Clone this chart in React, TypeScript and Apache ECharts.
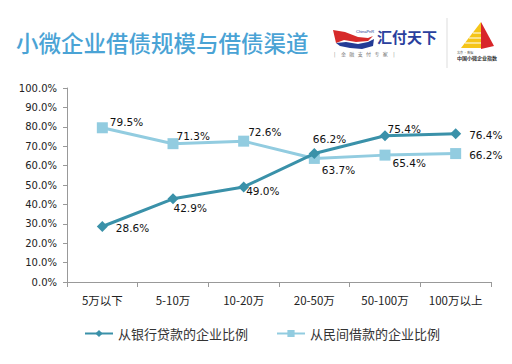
import React, { useEffect, useRef } from "react";
import * as echarts from "echarts";

const categories = ["5万以下", "5-10万", "10-20万", "20-50万", "50-100万", "100万以上"];
const bankValues = [28.6, 42.9, 49.0, 66.2, 75.4, 76.4];
const privateValues = [79.5, 71.3, 72.6, 63.7, 65.4, 66.2];
const bankName = "从银行贷款的企业比例";
const privateName = "从民间借款的企业比例";
const titleText = "小微企业借债规模与借债渠道";

const bankOffsets = [[3, 1], [-10, 9], [-8, 4], [-12, -15], [-8, -7], [3, 1]];
const privateOffsets = [[-3, -6], [-7, -8], [-6, -9], [-3, 12], [-3, 8], [3, 1]];

export default function App() {
  const ref = useRef<HTMLDivElement>(null);
  useEffect(() => {
    const chart = echarts.init(ref.current!, null, { renderer: "svg" });
    const font = "DejaVu Sans";
    const mk = (vals: number[], offs: number[][]) =>
      vals.map((v, i) => ({
        value: v,
        label: { offset: offs[i] },
      }));
    const labelCfg = {
      show: true,
      position: "right",
      distance: 5,
      color: "#111",
      fontSize: 10.5,
      fontFamily: font,
      formatter: (p: any) => p.value.toFixed(1) + "%",
    };
    chart.setOption({
      animation: false,
      backgroundColor: "#ffffff",
      grid: { left: 67, right: 21, top: 88, bottom: 82 },
      legend: {
        left: 79,
        top: 322,
        itemWidth: 28,
        itemHeight: 9,
        itemGap: 28,
        textStyle: { fontSize: 13, color: "#333", fontFamily: "Noto Sans CJK SC" },
        data: [bankName, privateName],
      },
      xAxis: {
        type: "category",
        data: categories,
        boundaryGap: true,
        axisLine: { lineStyle: { color: "#999", width: 1 } },
        axisTick: { show: true, length: 5, lineStyle: { color: "#999" } },
        axisLabel: { interval: 0, color: "#222", fontSize: 11.5, margin: 12, fontFamily: "Noto Sans CJK SC" },
      },
      yAxis: {
        type: "value",
        min: 0,
        max: 100,
        interval: 10,
        splitLine: { show: false },
        axisLine: { show: true, lineStyle: { color: "#999", width: 1 } },
        axisTick: { show: true, length: 4, lineStyle: { color: "#999" } },
        axisLabel: {
          color: "#222",
          fontSize: 10,
          margin: 10,
          fontFamily: font,
          formatter: (v: number) => v.toFixed(1) + "%",
        },
      },
      series: [
        {
          name: bankName,
          type: "line",
          data: mk(bankValues, bankOffsets),
          symbol: "diamond",
          symbolSize: 11,
          color: "#3a91a9",
          lineStyle: { width: 3, color: "#3a91a9" },
          itemStyle: { color: "#3a91a9" },
          label: labelCfg,
          z: 3,
        },
        {
          name: privateName,
          type: "line",
          data: mk(privateValues, privateOffsets),
          symbol: "rect",
          symbolSize: 11,
          color: "#92cce0",
          lineStyle: { width: 3, color: "#92cce0" },
          itemStyle: { color: "#92cce0" },
          label: labelCfg,
          z: 2,
        },
      ],
      graphic: [
        {
          type: "text",
          left: 16,
          top: 31,
          style: {
            text: titleText,
            fill: "#4aa3d5",
            font: "500 22.5px 'Noto Sans CJK SC'",
          },
        },
        // Chinapay swoosh logo
        {
          type: "polygon",
          shape: { points: [[333, 30], [345, 32], [358, 37], [368, 38], [373, 36], [368, 41], [356, 42], [344, 40], [336, 43]] },
          style: { fill: "#d62a2a" },
        },
        {
          type: "polygon",
          shape: { points: [[336, 43], [346, 42], [358, 44], [368, 42], [374, 39], [373, 46], [362, 49], [350, 48], [340, 46]] },
          style: { fill: "#233b95" },
        },
        {
          type: "text",
          x: 356,
          y: 29,
          style: { text: "ChinaPnR", fill: "#233b95", font: "4px sans-serif" },
        },
        {
          type: "text",
          x: 377,
          y: 29,
          style: { text: "汇付天下", fill: "#2a3f9e", font: "bold 15px 'Noto Sans CJK SC'" },
        },
        {
          type: "text",
          x: 334,
          y: 51,
          style: { text: "|     金   融   支   付   专   家     |", fill: "#777", font: "5px 'Noto Sans CJK SC'" },
        },
        {
          type: "line",
          shape: { x1: 447, y1: 18, x2: 447, y2: 68 },
          style: { stroke: "#ddd", lineWidth: 1 },
        },
        // pyramid logo
        {
          type: "polygon",
          shape: { points: [[461, 48], [481, 22], [481, 48]] },
          style: { fill: "#f5c518" },
        },
        {
          type: "polygon",
          shape: { points: [[481, 22], [494, 46], [481, 49]] },
          style: { fill: "#d8262a" },
        },
        {
          type: "line",
          shape: { x1: 465, y1: 43, x2: 481, y2: 43 },
          style: { stroke: "#fff", lineWidth: 1 },
        },
        {
          type: "line",
          shape: { x1: 469, y1: 38, x2: 481, y2: 38 },
          style: { stroke: "#fff", lineWidth: 1 },
        },
        {
          type: "line",
          shape: { x1: 473, y1: 33, x2: 481, y2: 33 },
          style: { stroke: "#fff", lineWidth: 1 },
        },
        {
          type: "text",
          x: 457,
          y: 51,
          style: { text: "北京 · 数据", fill: "#555", font: "3px 'Noto Sans CJK SC'" },
        },
        {
          type: "text",
          x: 457,
          y: 55,
          style: { text: "中国小微企业指数", fill: "#333", font: "bold 5px 'Noto Sans CJK SC'" },
        },
      ],
    });
    return () => chart.dispose();
  }, []);
  return <div ref={ref} style={{ width: 512, height: 364, margin: -8 }} />;
}
